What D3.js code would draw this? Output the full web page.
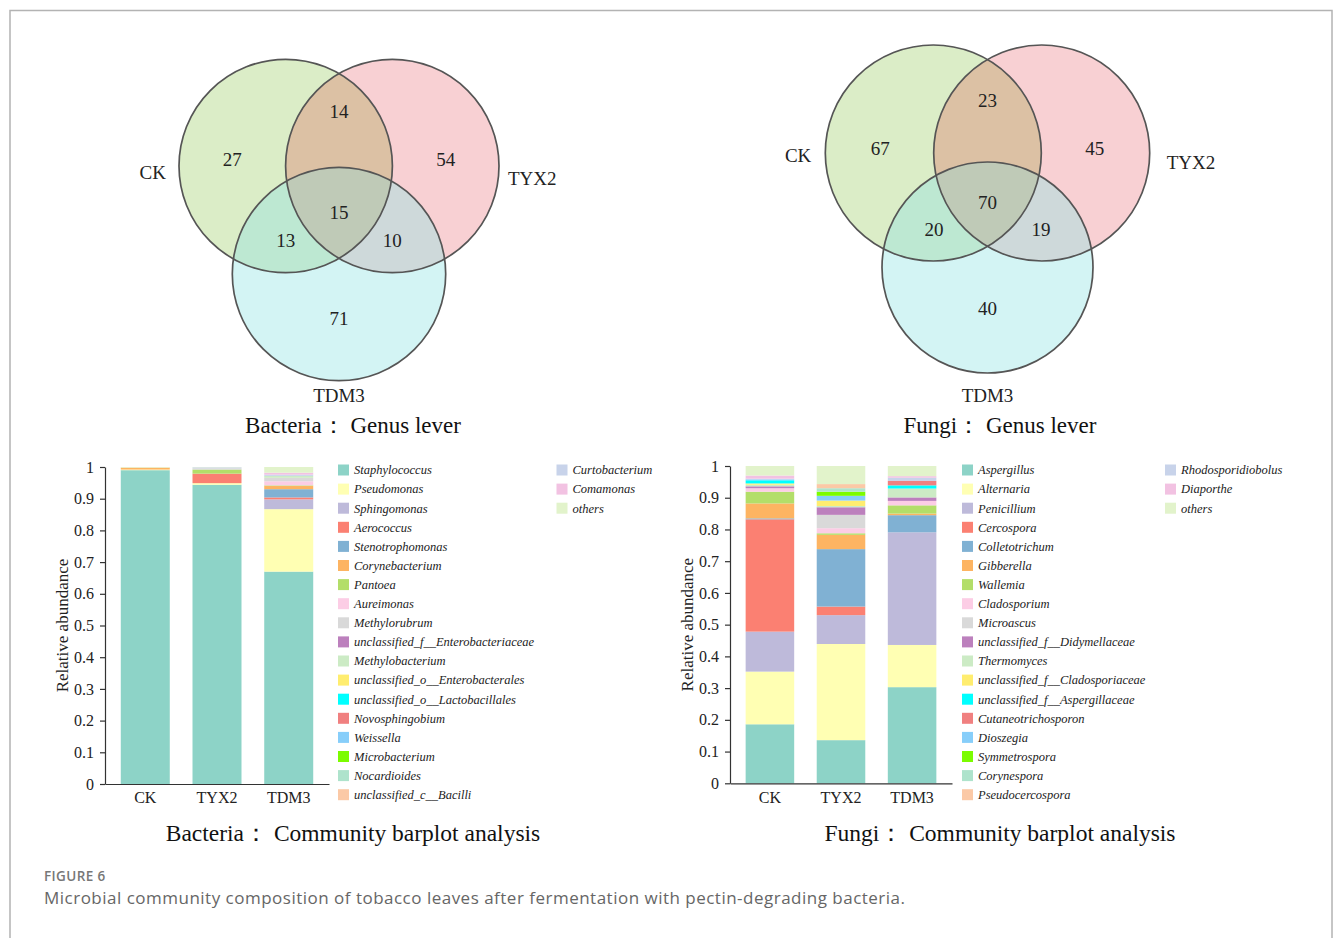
<!DOCTYPE html>
<html>
<head>
<meta charset="utf-8">
<script src="https://cdn.jsdelivr.net/npm/d3@7"></script>
<style>
  html, body { margin: 0; padding: 0; background: #fff; }
  svg { display: block; }
</style>
</head>
<body>
<svg id="fig" width="1333" height="938"></svg>
<script>
// ---- data ----
const groups = ["CK", "TYX2", "TDM3"];
const yTicks = [0, 0.1, 0.2, 0.3, 0.4, 0.5, 0.6, 0.7, 0.8, 0.9, 1];
const vennRegions = ["CK", "TYX2", "TDM3", "CK&TYX2", "CK&TDM3", "TYX2&TDM3", "CK&TYX2&TDM3"];
const bacteriaVenn = [27, 54, 71, 14, 13, 10, 15];
const fungiVenn = [67, 45, 40, 23, 20, 19, 70];

const bacteriaGenera = [
  "Staphylococcus", "Pseudomonas", "Sphingomonas", "Aerococcus", "Stenotrophomonas",
  "Corynebacterium", "Pantoea", "Aureimonas", "Methylorubrum", "unclassified_f__Enterobacteriaceae",
  "Methylobacterium", "unclassified_o__Enterobacterales", "unclassified_o__Lactobacillales",
  "Novosphingobium", "Weissella", "Microbacterium", "Nocardioides", "unclassified_c__Bacilli",
  "Curtobacterium", "Comamonas", "others"
];
const bacteriaCK   = [0.990, 0.002, 0, 0, 0, 0.006, 0, 0, 0, 0, 0, 0, 0, 0, 0, 0, 0, 0, 0, 0, 0.002];
const bacteriaTYX2 = [0.944, 0.005, 0, 0.030, 0, 0, 0.013, 0, 0.004, 0, 0, 0, 0, 0, 0, 0, 0, 0, 0.003, 0, 0.001];
const bacteriaTDM3 = [0.670, 0.197, 0.031, 0.006, 0.026, 0.010, 0.002, 0.013, 0.011, 0, 0.006, 0, 0, 0, 0, 0, 0, 0, 0.004, 0.006, 0.018];

const fungiGenera = [
  "Aspergillus", "Alternaria", "Penicillium", "Cercospora", "Colletotrichum",
  "Gibberella", "Wallemia", "Cladosporium", "Microascus", "unclassified_f__Didymellaceae",
  "Thermomyces", "unclassified_f__Cladosporiaceae", "unclassified_f__Aspergillaceae",
  "Cutaneotrichosporon", "Dioszegia", "Symmetrospora", "Corynespora", "Pseudocercospora",
  "Rhodosporidiobolus", "Diaporthe", "others"
];
const fungiCK   = [0.186, 0.166, 0.126, 0.354, 0.003, 0.047, 0.037, 0.011, 0, 0.006, 0.005, 0.004, 0.010, 0, 0.003, 0, 0, 0, 0.002, 0.010, 0.030];
const fungiTYX2 = [0.136, 0.303, 0.091, 0.027, 0.181, 0.045, 0.005, 0.016, 0.042, 0.024, 0.004, 0.017, 0, 0, 0.015, 0.013, 0.011, 0.013, 0, 0, 0.057];
const fungiTDM3 = [0.303, 0.133, 0.355, 0, 0.054, 0.005, 0.026, 0.014, 0, 0.011, 0.028, 0, 0.010, 0.014, 0, 0, 0, 0, 0.010, 0.005, 0.032];

// shared palette for the stacked genera (same order as the legends)
const palette = [
  "#8dd3c7", "#ffffb3", "#bebada", "#fb8072", "#80b1d3", "#fdb462", "#b3de69",
  "#fccde5", "#d9d9d9", "#bc80bd", "#ccebc5", "#ffed6f", "#00ffff", "#f08080",
  "#87cefa", "#7cfc00", "#aee3cc", "#fbc9a6", "#c8d3ea", "#f2c2e2", "#e2f3cb"
];

const vennColors = {
  "CK": "#dbedc7", "TYX2": "#f8d0d3", "TDM3": "#d3f4f4",
  "CK&TYX2": "#dcc1a4", "CK&TDM3": "#bde8d2", "TYX2&TDM3": "#ced9da", "CK&TYX2&TDM3": "#bfcab7"
};

const svg = d3.select("#fig");
const serif = "'Liberation Serif', 'Times New Roman', serif";

// outer frame of the figure panel
svg.append("rect")
  .attr("x", 10).attr("y", 10.5).attr("width", 1322).attr("height", 1000)
  .attr("fill", "none").attr("stroke", "#b3b3b3").attr("stroke-width", 1.5);

// Venn template: label anchor of each region, relative to the centroid of the
// three circle centres, in units of the circle radius
const vennTemplate = [
  [-1.0, -0.397], [1.0, -0.397], [0, 1.09],
  [0, -0.85], [-0.5, 0.358], [0.5, 0.358], [0, 0.1]
];

// ---- Venn diagrams ----
function drawVenn(id, circles, counts, title, titleX, nameOpts) {
  const g = svg.append("g");
  const defs = svg.append("defs");
  circles.forEach((c, i) => {
    defs.append("clipPath").attr("id", `${id}-clip${i}`)
      .append("circle").attr("cx", c.cx).attr("cy", c.cy).attr("r", c.r);
  });
  const circ = (sel, c, fill) => sel.append("circle")
    .attr("cx", c.cx).attr("cy", c.cy).attr("r", c.r).attr("fill", fill);

  // single sets
  circles.forEach((c, i) => circ(g, c, vennColors[vennRegions[i]]));
  // pairwise overlaps
  const pairs = [[0, 1, 3], [0, 2, 4], [1, 2, 5]];
  pairs.forEach(([a, b, k]) => {
    circ(g.append("g").attr("clip-path", `url(#${id}-clip${a})`), circles[b], vennColors[vennRegions[k]]);
  });
  // triple overlap
  const g3 = g.append("g").attr("clip-path", `url(#${id}-clip0)`)
    .append("g").attr("clip-path", `url(#${id}-clip1)`);
  circ(g3, circles[2], vennColors[vennRegions[6]]);
  // outlines
  circles.forEach(c => g.append("circle")
    .attr("cx", c.cx).attr("cy", c.cy).attr("r", c.r)
    .attr("fill", "none").attr("stroke", "#555").attr("stroke-width", 1.7));

  // count labels
  const mx = d3.mean(circles, c => c.cx), my = d3.mean(circles, c => c.cy);
  const mr = d3.mean(circles, c => c.r);
  counts.forEach((v, i) => {
    const [ox, oy] = vennTemplate[i];
    g.append("text").attr("x", mx + ox * mr).attr("y", my + oy * mr).attr("dy", "0.35em")
      .attr("text-anchor", "middle").style("font-family", serif).style("font-size", "19px")
      .attr("fill", "#222").text(v);
  });

  // set names
  const [a, b, c] = circles;
  const nameStyle = t => t.style("font-family", serif).style("font-size", "19px").attr("fill", "#222");
  nameStyle(g.append("text").attr("x", a.cx - a.r - nameOpts.left).attr("y", a.cy + nameOpts.leftDy)
    .attr("dy", "0.35em").attr("text-anchor", "end").text(groups[0]));
  nameStyle(g.append("text").attr("x", b.cx + b.r + nameOpts.right).attr("y", b.cy + nameOpts.rightDy)
    .attr("dy", "0.35em").attr("text-anchor", "start").text(groups[1]));
  nameStyle(g.append("text").attr("x", c.cx).attr("y", 395)
    .attr("dy", "0.35em").attr("text-anchor", "middle").text(groups[2]));

  g.append("text").attr("x", titleX).attr("y", 425).attr("dy", "0.35em")
    .attr("text-anchor", "middle").style("font-family", serif).style("font-size", "23px")
    .attr("fill", "#111").text(title);
}

drawVenn("vb", [
  { cx: 285.7, cy: 166, r: 106.7 },
  { cx: 392.3, cy: 166, r: 106.7 },
  { cx: 339, cy: 274, r: 106.7 }
], bacteriaVenn, "Bacteria： Genus lever", 353, { left: 13, leftDy: 6, right: 9, rightDy: 12 });

drawVenn("vf", [
  { cx: 933.3, cy: 153, r: 108 },
  { cx: 1041.7, cy: 153, r: 108 },
  { cx: 987.5, cy: 267.5, r: 105.5 }
], fungiVenn, "Fungi： Genus lever", 1000, { left: 14, leftDy: 2, right: 17, rightDy: 9 });

// ---- stacked bar charts ----
function drawBars(opts) {
  const { genera, series, left, right, top, bottom, legendX, colGap, title, titleX } = opts;
  const g = svg.append("g");
  const rows = groups.map((grp, gi) => {
    const row = { group: grp };
    genera.forEach((gen, k) => { row[gen] = series[gi][k]; });
    return row;
  });
  const stacked = d3.stack().keys(genera)(rows);

  const x = d3.scaleBand().domain(groups).range([left, right])
    .paddingInner(0.317).paddingOuter(0.22);
  const y = d3.scaleLinear().domain([0, 1]).range([bottom, top]);
  const color = d3.scaleOrdinal().domain(genera).range(palette);

  g.append("g").selectAll("g").data(stacked).join("g")
    .attr("fill", d => color(d.key))
    .selectAll("rect").data(d => d).join("rect")
    .attr("x", d => x(d.data.group))
    .attr("width", x.bandwidth())
    .attr("y", d => y(d[1]))
    .attr("height", d => Math.max(0, y(d[0]) - y(d[1])));

  const yAxis = g.append("g").attr("transform", `translate(${left},0)`)
    .call(d3.axisLeft(y).tickValues(yTicks).tickFormat(d => String(+d.toFixed(1)))
      .tickSize(5).tickSizeOuter(0).tickPadding(6));
  const xAxis = g.append("g").attr("transform", `translate(0,${bottom})`)
    .call(d3.axisBottom(x).tickSize(0).tickSizeOuter(0).tickPadding(8));
  [yAxis, xAxis].forEach(ax => {
    ax.selectAll("path, line").attr("stroke", "#333").attr("stroke-width", 1.2);
    ax.selectAll("text").style("font-family", serif).style("font-size", "16px").attr("fill", "#222");
  });

  g.append("text")
    .attr("transform", `translate(${left - 37},${(top + bottom) / 2}) rotate(-90)`)
    .attr("text-anchor", "middle").style("font-family", serif).style("font-size", "17px")
    .attr("fill", "#222").text("Relative abundance");

  // legend: 18 entries in the first column, the rest in the second
  const perCol = 18;
  const lg = g.append("g");
  genera.forEach((gen, i) => {
    const col = Math.floor(i / perCol), row = i % perCol;
    const lx = legendX + col * colGap, ly = 470 + row * 19.1;
    lg.append("rect").attr("x", lx).attr("y", ly - 5.5).attr("width", 11).attr("height", 11)
      .attr("fill", color(gen));
    lg.append("text").attr("x", lx + 16).attr("y", ly).attr("dy", "0.35em")
      .style("font-family", serif).style("font-style", "italic").style("font-size", "12.5px")
      .attr("fill", "#222").text(gen);
  });

  g.append("text").attr("x", titleX).attr("y", 833).attr("dy", "0.35em")
    .attr("text-anchor", "middle").style("font-family", serif).style("font-size", "23.5px")
    .attr("fill", "#111").text(title);
}

drawBars({
  genera: bacteriaGenera, series: [bacteriaCK, bacteriaTYX2, bacteriaTDM3],
  left: 105, right: 329, top: 467, bottom: 784, legendX: 338, colGap: 218.5,
  title: "Bacteria： Community barplot analysis", titleX: 353
});
drawBars({
  genera: fungiGenera, series: [fungiCK, fungiTYX2, fungiTDM3],
  left: 730, right: 952, top: 466, bottom: 783.3, legendX: 962, colGap: 203,
  title: "Fungi： Community barplot analysis", titleX: 1000
});

// ---- caption ----
const sans = "'Open Sans', 'Noto Sans', sans-serif";
svg.append("text").attr("x", 44).attr("y", 881)
  .style("font-family", sans).style("font-size", "13.5px").style("font-weight", 600)
  .style("letter-spacing", "0.4px")
  .attr("fill", "#777").text("FIGURE 6");
svg.append("text").attr("x", 44).attr("y", 904)
  .attr("textLength", 861).attr("lengthAdjust", "spacing")
  .style("font-family", sans).style("font-size", "17px")
  .attr("fill", "#666").text("Microbial community composition of tobacco leaves after fermentation with pectin-degrading bacteria.");
</script>
</body>
</html>
